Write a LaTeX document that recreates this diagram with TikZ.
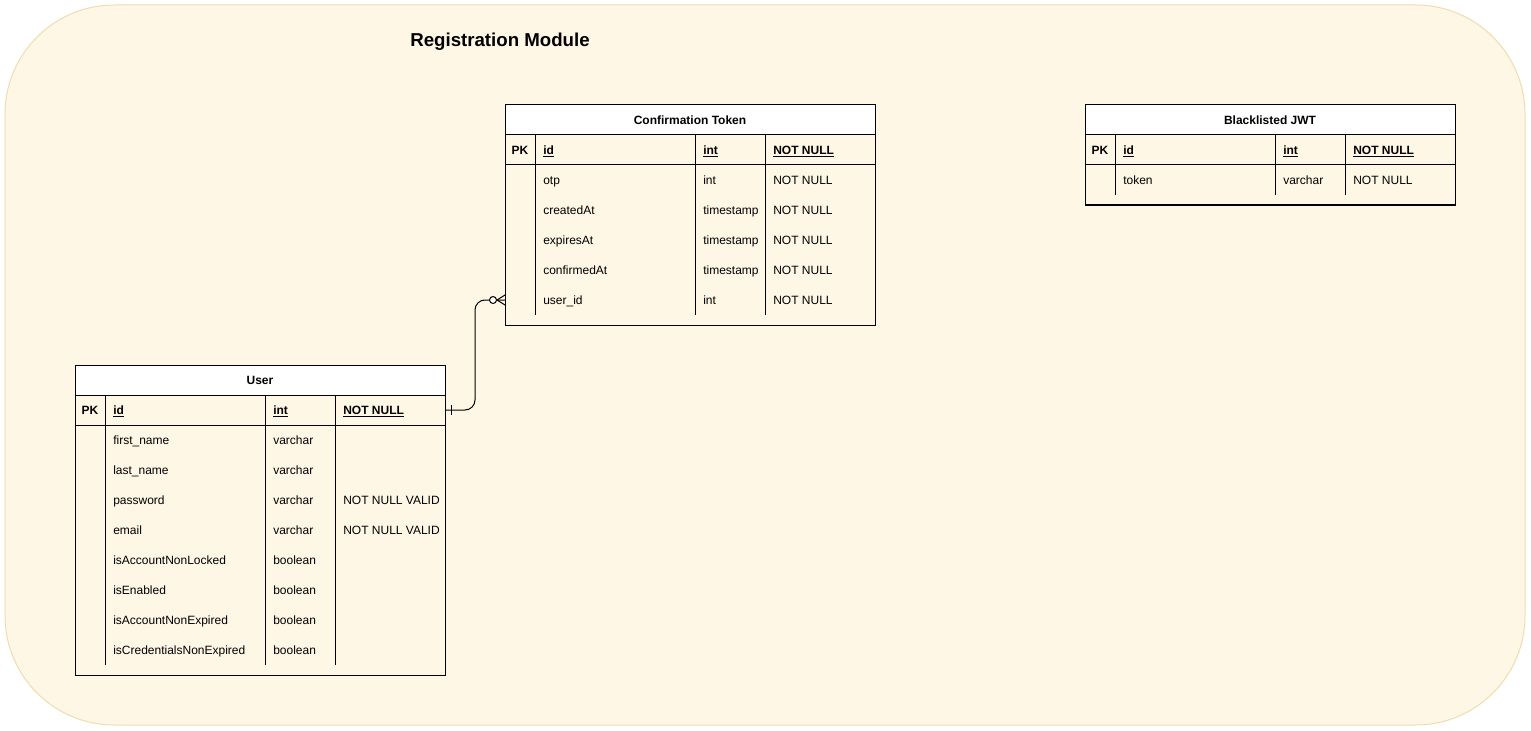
\documentclass[tikz,border=0pt]{standalone}
\usepackage{fontspec}
\setmainfont{Liberation Sans}
\usetikzlibrary{calc}

\begin{document}
\begin{tikzpicture}[
    x=0.75pt, y=-0.75pt,
    every node/.style={font=\fontsize{9}{11}\selectfont, text=black, inner sep=0pt,
                       text height=8.1pt, text depth=2pt},
    grid/.style={line width=0.75pt, draw=black},
    cellname/.style={anchor=west},
    relline/.style={line width=0.75pt, draw=black, rounded corners=7.5pt},
]

\definecolor{modfill}{HTML}{FFF7E5}
\definecolor{modline}{HTML}{EEDDB0}

% ================================================================
% Units are pixels of the 1531 x 731 drawing, y runs downwards.
% Every table: 370 wide, header 30, key row 30, field rows 30 each,
% 10 of padding below the last field.
%   columns: key 0..30, name 30..190, type 190..260, rule 260..370
% ================================================================

\newcommand{\ertable}[6]{% #1 prefix, #2 x, #3 y, #4 title, #5 number of fields, #6 fields
\begin{scope}[shift={(#2,#3)}]
  \fill[white] (0,0) rectangle (370,30);
  \draw[grid] (0,0) rectangle (370,70+30*#5);
  \draw[grid] (0,30) -- (370,30) (0,60) -- (370,60);
  \foreach \cx in {30,190,260}
    \draw[grid] (\cx,30) -- (\cx,60+30*#5);
  \node[font=\fontsize{9}{11}\selectfont\bfseries] (#1-title) at (185,15) {#4};

  % primary key row
  \node[font=\fontsize{9}{11}\selectfont\bfseries] (#1-pk) at (15,45) {PK};
  \node[cellname, font=\fontsize{9}{11}\selectfont\bfseries] (#1-id) at (38,45) {\underline{id}};
  \node[cellname, font=\fontsize{9}{11}\selectfont\bfseries] (#1-idtype) at (198,45) {\underline{int}};
  \node[cellname, font=\fontsize{9}{11}\selectfont\bfseries] (#1-idrule) at (268,45) {\underline{NOT NULL}};
  \coordinate (#1-pk-w) at (0,45);
  \coordinate (#1-pk-e) at (370,45);

  % fields
  \foreach \fname/\ftype/\frule [count=\i] in {#6} {
    \node[cellname] (#1-f\i) at (38,45+30*\i) {\fname};
    \node[cellname] (#1-t\i) at (198,45+30*\i) {\ftype};
    \node[cellname] (#1-r\i) at (268,45+30*\i) {\frule};
    \coordinate (#1-f\i-w) at (0,45+30*\i);
  }
\end{scope}}

\useasboundingbox (0,0) rectangle (1531,731);
\fill[white] (0,0) rectangle (1531,731);

% ---------------------------------------------------------------- module
\draw[modline, fill=modfill, line width=0.75pt, rounded corners=82pt]
    (5,5) rectangle (1525,725);
\node[font=\fontsize{14}{16}\selectfont\bfseries, text height=13pt, text depth=3pt]
    (module) at (500,40) {Registration Module};

% ---------------------------------------------------------------- tables
\ertable{token}{505}{105}{Confirmation Token}{5}{%
    otp/int/NOT NULL,
    createdAt/timestamp/NOT NULL,
    expiresAt/timestamp/NOT NULL,
    confirmedAt/timestamp/NOT NULL,
    user\_id/int/NOT NULL}

\ertable{jwt}{1085}{105}{Blacklisted JWT}{1}{%
    token/varchar/NOT NULL}

\ertable{user}{75}{365}{User}{8}{%
    first\_name/varchar/{},
    last\_name/varchar/{},
    password/varchar/NOT NULL VALID,
    email/varchar/NOT NULL VALID,
    isAccountNonLocked/boolean/{},
    isEnabled/boolean/{},
    isAccountNonExpired/boolean/{},
    isCredentialsNonExpired/boolean/{}}

% ---------------------------------------------------------------- relation
% one user -- zero or many confirmation tokens
\draw[relline] (user-pk-e) -- ($(user-pk-e)+(30,0)$) |- (token-f5-w);
\draw[line width=0.75pt] ($(user-pk-e)+(6,-5)$) -- ($(user-pk-e)+(6,5)$);
\draw[line width=0.75pt] ($(token-f5-w)+(-8,0)$) -- ($(token-f5-w)+(0,-5)$)
                         ($(token-f5-w)+(-8,0)$) -- ($(token-f5-w)+(0,5)$);
\draw[line width=0.75pt, fill=white] ($(token-f5-w)+(-12,0)$) circle[radius=3.5];

\end{tikzpicture}
\end{document}
